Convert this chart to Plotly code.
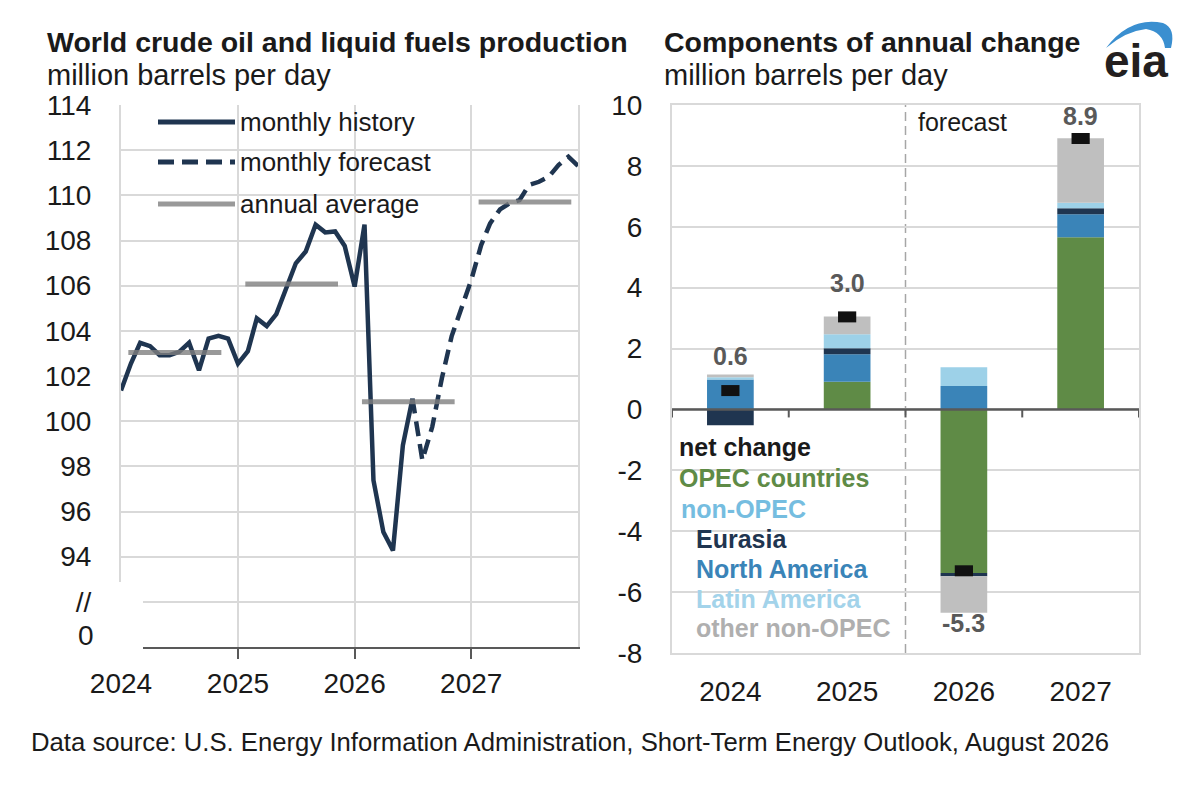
import pandas as pd
import plotly.graph_objects as go

# the page body has an 8px margin, so the figure is a bit smaller than the window
PAGE_W, PAGE_H = 1192, 788
OFF = 8
W, H = PAGE_W - 2 * OFF, PAGE_H - 2 * OFF

# world production, million barrels per day (monthly)
history_start = "2024-01-01"
history = [101.36, 102.55, 103.47, 103.32, 102.92, 102.92, 103.07, 103.47, 102.25, 103.66, 103.78, 103.66,
           102.55, 103.10, 104.55, 104.21, 104.74, 105.85, 106.99, 107.51, 108.70, 108.36, 108.40, 107.76,
           105.96, 108.70, 97.38, 95.09, 94.27, 98.93, 101.00]
forecast_start = "2026-07-01"
forecast = [101.00, 98.27, 99.75, 101.90, 103.78, 105.03, 106.25, 107.80, 108.76, 109.38, 109.65, 109.79,
            110.46, 110.60, 110.83, 111.34, 111.71, 111.30]
avg_years = [2024, 2025, 2026, 2027]
annual_avg = [103.04, 106.07, 100.86, 109.70]
left_ticks = [92, 94, 96, 98, 100, 102, 104, 106, 108, 110, 112, 114]
left_ticktext = ["//", "94", "96", "98", "100", "102", "104", "106", "108", "110", "112", "114"]

# components of annual change, million barrels per day
years = ["2024", "2025", "2026", "2027"]
opec = [0.0, 0.91, -5.37, 5.66]
north_america = [0.98, 0.90, 0.77, 0.75]
eurasia = [-0.52, 0.20, -0.11, 0.20]
latin_america = [0.08, 0.46, 0.62, 0.18]
other_non_opec = [0.09, 0.58, -1.20, 2.12]
net_change = [0.62, 3.04, -5.30, 8.90]
right_ticks = [-8, -6, -4, -2, 0, 2, 4, 6, 8, 10]

NAVY = "#1f3550"
GREEN = "#5f8b46"
BLUE = "#3a84b8"
LIGHT = "#9dd1e8"
GRAY = "#bfbfbf"
GRID = "#d9d9d9"
AXIS = "#595959"
TXT = "#1a1a1a"
FONT = "Liberation Sans, Arial, sans-serif"


def px(x):
    return (x - OFF) / W


def py(y):
    return 1 - (y - OFF) / H


fig = go.Figure()

# left panel: monthly lines + annual averages
hist_x = pd.date_range(history_start, periods=len(history), freq="MS")
fc_x = pd.date_range(forecast_start, periods=len(forecast), freq="MS")
fig.add_trace(go.Scatter(x=hist_x, y=history, mode="lines",
                         line=dict(color=NAVY, width=4.5), xaxis="x", yaxis="y"))
fig.add_trace(go.Scatter(x=fc_x, y=forecast, mode="lines",
                         line=dict(color=NAVY, width=4.5, dash="15px,8px"), xaxis="x", yaxis="y"))
for yr, v in zip(avg_years, annual_avg):
    fig.add_trace(go.Scatter(x=[f"{yr}-01-24", f"{yr}-11-10"], y=[v, v], mode="lines",
                             line=dict(color="rgba(128,128,128,0.8)", width=5), xaxis="x", yaxis="y"))

# right panel: stacked components + net change
components = [("OPEC countries", opec, GREEN), ("North America", north_america, BLUE),
              ("Eurasia", eurasia, NAVY), ("Latin America", latin_america, LIGHT),
              ("other non-OPEC", other_non_opec, GRAY)]
for name, vals, col in components:
    fig.add_trace(go.Bar(x=years, y=vals, name=name, marker=dict(color=col, line=dict(width=0)),
                         xaxis="x2", yaxis="y2"))
fig.add_trace(go.Scatter(x=years, y=net_change, mode="markers", name="net change",
                         marker=dict(symbol="line-ew", size=13, color="#111111",
                                     line=dict(color="#111111", width=11)),
                         xaxis="x2", yaxis="y2"))

fig.update_layout(
    width=W, height=H, margin=dict(l=0, r=0, t=0, b=0),
    paper_bgcolor="white", plot_bgcolor="white", showlegend=False,
    barmode="relative", bargap=0.6,
    font=dict(family=FONT, color=TXT, size=28),
    xaxis=dict(domain=[px(121), px(578)], anchor="y", type="date",
               range=["2024-01-01", "2027-12-01"],
               tickvals=[f"{y}-01-01" for y in avg_years], ticktext=[str(y) for y in avg_years],
               showgrid=True, gridcolor=GRID, gridwidth=2,
               showline=True, linecolor=AXIS, linewidth=2,
               ticks="outside", ticklen=10, tickwidth=2, tickcolor=AXIS,
               ticklabelstandoff=0, automargin=False),
    yaxis=dict(domain=[py(647), py(105)], anchor="x", range=[90, 114],
               tickvals=left_ticks, ticktext=left_ticktext,
               showgrid=True, gridcolor=GRID, gridwidth=2, zeroline=False,
               showline=True, mirror=True, linecolor=GRID, linewidth=2,
               ticks="", ticklabelstandoff=22, automargin=False),
    xaxis2=dict(domain=[px(672), px(1139)], anchor="y2", type="category",
                range=[-0.5, len(years) - 0.5],
                showline=True, mirror=True, linecolor=GRID, linewidth=2, showgrid=False,
                ticks="", ticklabelstandoff=12, automargin=False),
    yaxis2=dict(domain=[py(653), py(105)], anchor="x2", range=[-8, 10],
                tickvals=right_ticks, ticktext=[str(v) for v in right_ticks],
                showgrid=True, gridcolor=GRID, gridwidth=2, zeroline=False,
                showline=True, mirror=True, linecolor=GRID, linewidth=2,
                ticks="", ticklabelstandoff=22, automargin=False),
)

shapes = []
# axis break on the left panel
shapes.append(dict(type="rect", xref="paper", yref="paper", x0=px(108), x1=px(143), y0=py(662), y1=py(582),
                   fillcolor="white", line=dict(width=0), layer="above"))
# zero line and category boundary ticks on the right panel
shapes.append(dict(type="line", xref="x2 domain", yref="y2", x0=0, x1=1, y0=0, y1=0,
                   line=dict(color=AXIS, width=2.5), layer="above"))
for i in range(len(years) + 1):
    shapes.append(dict(type="line", xref="x2", yref="y2", ysizemode="pixel", yanchor=0,
                       x0=i - 0.5, x1=i - 0.5, y0=0, y1=-8, line=dict(color=AXIS, width=2), layer="above"))
# forecast divider
shapes.append(dict(type="line", xref="x2", yref="y2 domain", x0=1.5, x1=1.5, y0=0, y1=1,
                   line=dict(color="#a6a6a6", width=1.5, dash="9px,5px"), layer="below"))
# left legend glyphs
shapes.append(dict(type="line", xref="paper", yref="paper", x0=px(158), x1=px(235), y0=py(122), y1=py(122),
                   line=dict(color=NAVY, width=5)))
shapes.append(dict(type="line", xref="paper", yref="paper", x0=px(158), x1=px(235), y0=py(162), y1=py(162),
                   line=dict(color=NAVY, width=5, dash="16px,8px")))
shapes.append(dict(type="line", xref="paper", yref="paper", x0=px(158), x1=px(235), y0=py(204), y1=py(204),
                   line=dict(color="#999999", width=5)))
# eia logo swoosh (crescent, thick at the right end)
arc = [(1106, 48), (1130, 16), (1163, 23), (1176, 28), (1171, 48),
       (1165, 48), (1163, 32), (1146, 29), (1126, 31), (1106, 48)]
p = [(px(x), py(y)) for x, y in arc]
path = (f"M {p[0][0]},{p[0][1]} Q {p[1][0]},{p[1][1]} {p[2][0]},{p[2][1]} "
        f"Q {p[3][0]},{p[3][1]} {p[4][0]},{p[4][1]} L {p[5][0]},{p[5][1]} "
        f"Q {p[6][0]},{p[6][1]} {p[7][0]},{p[7][1]} Q {p[8][0]},{p[8][1]} {p[9][0]},{p[9][1]} Z")
shapes.append(dict(type="path", xref="paper", yref="paper", path=path,
                   fillcolor="#3a8fd0", line=dict(width=0)))
fig.update_layout(shapes=shapes)

ann = []


def text(x, y, s, size=26, color=TXT, xanchor="left", bold=False):
    ann.append(dict(xref="paper", yref="paper", x=px(x), y=py(y), text=f"<b>{s}</b>" if bold else s,
                    showarrow=False, xanchor=xanchor, yanchor="middle",
                    font=dict(size=size, color=color, family=FONT)))


text(45, 42, "World crude oil and liquid fuels production", size=28.5, bold=True)
text(45, 75, "million barrels per day", size=29)
text(662, 42, "Components of annual change", size=28.5, bold=True)
text(662, 75, "million barrels per day", size=29)
text(29, 742, "Data source: U.S. Energy Information Administration, Short-Term Energy Outlook, August 2026",
     size=25.7)
text(1136, 61, "eia", size=46, color="#231f20", xanchor="center", bold=True)
text(96, 635, "0", size=28, xanchor="right")

# left legend labels
for yy, s in zip([122, 162, 204], ["monthly history", "monthly forecast", "annual average"]):
    text(238, yy, s, size=26)

# right legend labels
legend_rows = [("net change", "#1a1a1a", 677, 447), ("OPEC countries", GREEN, 677, 478),
               ("non-OPEC", "#75bde0", 679, 509), ("Eurasia", NAVY, 694, 539),
               ("North America", BLUE, 694, 569), ("Latin America", "#a3d3ea", 694, 599),
               ("other non-OPEC", "#afafaf", 694, 628)]
for s, col, xx, yy in legend_rows:
    text(xx, yy, s, size=25, color=col, bold=True)

# net change value labels
for i, v in enumerate(net_change):
    if v > 0:
        ly = min(v + 1.12, 9.65)
    else:
        neg = sum(c[1][i] for c in components if c[1][i] < 0)
        ly = neg - 0.34
    ann.append(dict(xref="x2", yref="y2", x=i, y=ly, text=f"<b>{v:.1f}</b>", showarrow=False,
                    xanchor="center", yanchor="middle", font=dict(size=25, color=AXIS, family=FONT)))

ann.append(dict(xref="x2", yref="y2", x=1.5, y=9.44, xshift=10, text="forecast", showarrow=False,
                xanchor="left", yanchor="middle", font=dict(size=25, color=TXT, family=FONT)))

fig.update_layout(annotations=ann)

fig.write_html("out.html")
